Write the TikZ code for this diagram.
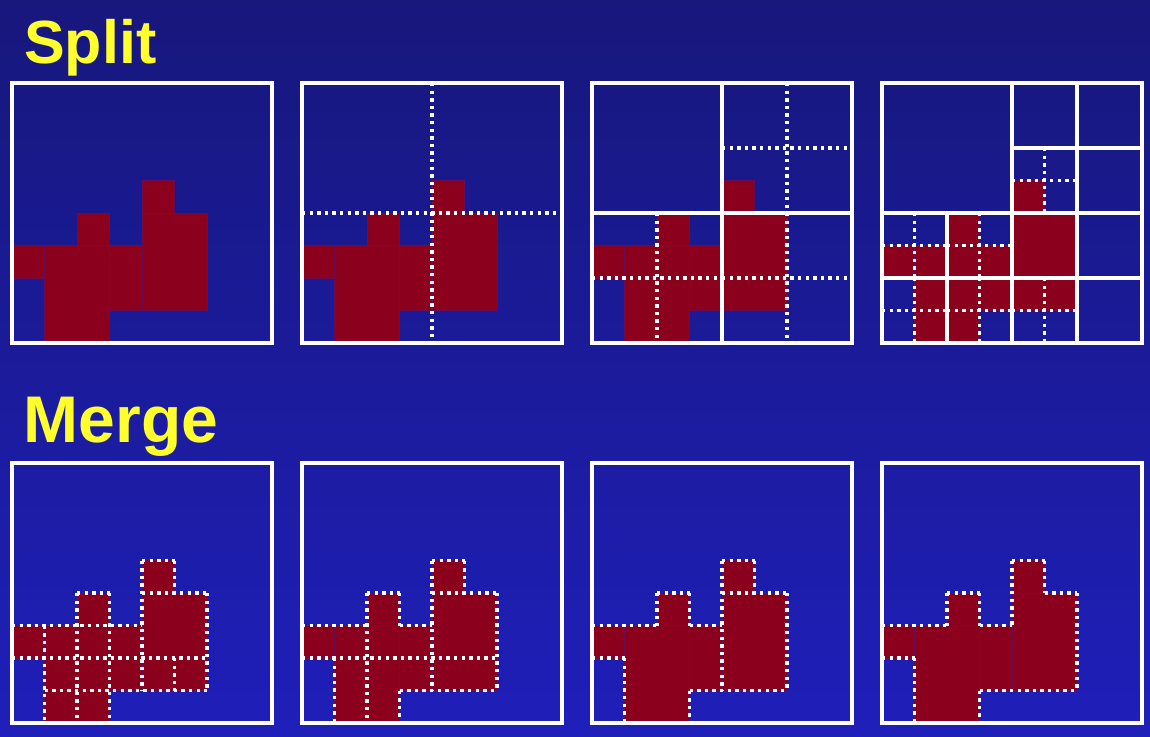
\documentclass[tikz,border=0pt]{standalone}
\usepackage{fontspec}
\setmainfont{Liberation Sans}
\definecolor{bgtop}{RGB}{23,23,124}
\definecolor{bgbot}{RGB}{31,31,186}
\definecolor{shapered}{RGB}{139,0,28}
\definecolor{seamcol}{RGB}{105,12,85}
\definecolor{titleyellow}{RGB}{255,255,45}
\tikzset{
  cellbox/.style={fill=shapered, draw=seamcol, line width=0.5pt},
  frame/.style={draw=white, line width=3.3pt},
  solidcut/.style={draw=white, line width=3.3pt},
  dotcut/.style={draw=white, line width=3.4pt, dash pattern=on 3.4pt off 4.2pt},
  title/.style={text=titleyellow, anchor=base west, inner sep=0pt},
  panel/.style={x=32.5pt, y=-32.5pt}
}
\newcommand{\redcells}{%
  \filldraw[cellbox] (0,5) rectangle (1,6);
  \filldraw[cellbox] (1,5) rectangle (3,8);
  \filldraw[cellbox] (2,4) rectangle (3,5);
  \filldraw[cellbox] (3,5) rectangle (4,7);
  \filldraw[cellbox] (4,3) rectangle (5,4);
  \filldraw[cellbox] (4,4) rectangle (6,7);
}
\newcommand{\panelframe}{\draw[frame] (0,0) rectangle (8,8);}
\begin{document}
\begin{tikzpicture}[x=1pt, y=-1pt]
  \useasboundingbox (0,0) rectangle (1150,736);
  \shade[top color=bgtop, bottom color=bgbot] (0,0) rectangle (1150,736);

  \node[title, font=\fontsize{61}{70}\selectfont\bfseries] (split) at (24,63) {Split};
  \node[title, font=\fontsize{66}{74}\selectfont\bfseries] (merge) at (23.5,442) {Merge};

  % ---------- Split row ----------
  \begin{scope}[shift={(12,83)}, panel]
    \redcells
    \panelframe
  \end{scope}

  \begin{scope}[shift={(302,83)}, panel]
    \redcells
    \draw[dotcut] (4,0) -- (4,8);
    \draw[dotcut] (0,4) -- (8,4);
    \panelframe
  \end{scope}

  \begin{scope}[shift={(592,83)}, panel]
    \redcells
    \draw[dotcut] (6,0) -- (6,4);
    \draw[dotcut] (4,2) -- (8,2);
    \draw[dotcut] (2,4) -- (2,8);
    \draw[dotcut] (0,6) -- (4,6);
    \draw[dotcut] (6,4) -- (6,8);
    \draw[dotcut] (4,6) -- (8,6);
    \draw[solidcut] (4,0) -- (4,8);
    \draw[solidcut] (0,4) -- (8,4);
    \panelframe
  \end{scope}

  \begin{scope}[shift={(882,83)}, panel]
    \redcells
    \draw[dotcut] (5,2) -- (5,4);
    \draw[dotcut] (4,3) -- (6,3);
    \draw[dotcut] (1,4) -- (1,6);
    \draw[dotcut] (0,5) -- (2,5);
    \draw[dotcut] (3,4) -- (3,6);
    \draw[dotcut] (2,5) -- (4,5);
    \draw[dotcut] (1,6) -- (1,8);
    \draw[dotcut] (0,7) -- (2,7);
    \draw[dotcut] (3,6) -- (3,8);
    \draw[dotcut] (2,7) -- (4,7);
    \draw[dotcut] (5,6) -- (5,8);
    \draw[dotcut] (4,7) -- (6,7);
    \draw[solidcut] (4,0) -- (4,8);
    \draw[solidcut] (0,4) -- (8,4);
    \draw[solidcut] (6,0) -- (6,4);
    \draw[solidcut] (4,2) -- (8,2);
    \draw[solidcut] (2,4) -- (2,8);
    \draw[solidcut] (0,6) -- (4,6);
    \draw[solidcut] (6,4) -- (6,8);
    \draw[solidcut] (4,6) -- (8,6);
    \panelframe
  \end{scope}

  % ---------- Merge row ----------
  \begin{scope}[shift={(12,463)}, panel]
    \redcells
    \draw[dotcut] (4,3) -- (5,3);
    \draw[dotcut] (2,4) -- (3,4);
    \draw[dotcut] (4,4) -- (6,4);
    \draw[dotcut] (0,5) -- (4,5);
    \draw[dotcut] (0,6) -- (6,6);
    \draw[dotcut] (1,7) -- (6,7);
    \draw[dotcut] (1,5) -- (1,8);
    \draw[dotcut] (2,4) -- (2,8);
    \draw[dotcut] (3,4) -- (3,8);
    \draw[dotcut] (4,3) -- (4,7);
    \draw[dotcut] (5,3) -- (5,4);
    \draw[dotcut] (5,6) -- (5,7);
    \draw[dotcut] (6,4) -- (6,7);
    \panelframe
  \end{scope}

  \begin{scope}[shift={(302,463)}, panel]
    \redcells
    \draw[dotcut] (4,3) -- (5,3);
    \draw[dotcut] (2,4) -- (3,4);
    \draw[dotcut] (4,4) -- (6,4);
    \draw[dotcut] (0,5) -- (2,5);
    \draw[dotcut] (3,5) -- (4,5);
    \draw[dotcut] (0,6) -- (6,6);
    \draw[dotcut] (3,7) -- (6,7);
    \draw[dotcut] (1,6) -- (1,8);
    \draw[dotcut] (2,4) -- (2,8);
    \draw[dotcut] (3,4) -- (3,5);
    \draw[dotcut] (3,7) -- (3,8);
    \draw[dotcut] (4,3) -- (4,7);
    \draw[dotcut] (5,3) -- (5,4);
    \draw[dotcut] (6,4) -- (6,7);
    \panelframe
  \end{scope}

  \begin{scope}[shift={(592,463)}, panel]
    \redcells
    \draw[dotcut] (4,3) -- (5,3);
    \draw[dotcut] (2,4) -- (3,4);
    \draw[dotcut] (4,4) -- (6,4);
    \draw[dotcut] (0,5) -- (2,5);
    \draw[dotcut] (3,5) -- (4,5);
    \draw[dotcut] (0,6) -- (1,6);
    \draw[dotcut] (3,7) -- (6,7);
    \draw[dotcut] (1,6) -- (1,8);
    \draw[dotcut] (2,4) -- (2,5);
    \draw[dotcut] (3,4) -- (3,5);
    \draw[dotcut] (3,7) -- (3,8);
    \draw[dotcut] (4,3) -- (4,7);
    \draw[dotcut] (5,3) -- (5,4);
    \draw[dotcut] (6,4) -- (6,7);
    \panelframe
  \end{scope}

  \begin{scope}[shift={(882,463)}, panel]
    \redcells
    \draw[dotcut] (4,3) -- (5,3);
    \draw[dotcut] (2,4) -- (3,4);
    \draw[dotcut] (5,4) -- (6,4);
    \draw[dotcut] (0,5) -- (2,5);
    \draw[dotcut] (3,5) -- (4,5);
    \draw[dotcut] (0,6) -- (1,6);
    \draw[dotcut] (3,7) -- (6,7);
    \draw[dotcut] (1,6) -- (1,8);
    \draw[dotcut] (2,4) -- (2,5);
    \draw[dotcut] (3,4) -- (3,5);
    \draw[dotcut] (3,7) -- (3,8);
    \draw[dotcut] (4,3) -- (4,5);
    \draw[dotcut] (5,3) -- (5,4);
    \draw[dotcut] (6,4) -- (6,7);
    \panelframe
  \end{scope}
\end{tikzpicture}
\end{document}
